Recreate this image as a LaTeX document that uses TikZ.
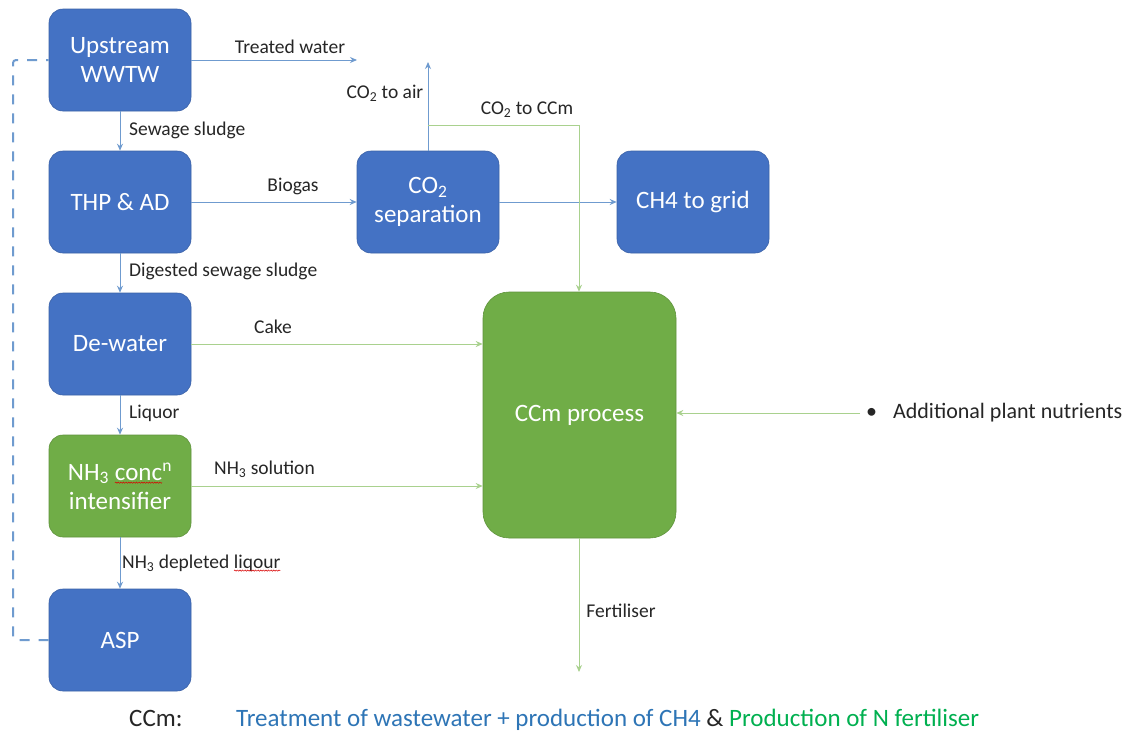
\documentclass[tikz,border=0pt]{standalone}
\usepackage{fontspec}
\setmainfont{Carlito}
\usetikzlibrary{arrows.meta,decorations.pathmorphing}
\definecolor{boxblue}{HTML}{4472C4}
\definecolor{boxgreen}{HTML}{70AD47}
\definecolor{lineblue}{HTML}{6F9BCF}
\definecolor{linegreen}{HTML}{A9D18E}
\definecolor{txtblue}{HTML}{2E75B6}
\definecolor{txtgreen}{HTML}{00B050}
\definecolor{txtdark}{HTML}{262626}
\newcommand\squig[1]{\tikz[baseline=(s.base)]{\node[inner sep=0pt,outer sep=0pt,minimum width=0pt,minimum height=0pt,draw=none,fill=none,sharp corners,align=left](s){#1};\draw[red!85!black,line width=0.5pt,sharp corners,decorate,decoration={snake,amplitude=0.6pt,segment length=2.6pt}]([yshift=-2.5pt]s.base west)--([yshift=-2.5pt]s.base east);}}
\tikzset{
  procbox/.style={rounded corners=14pt, draw=boxblue!85!black, line width=0.6pt, fill=boxblue, text=white,
    font=\fontsize{25}{29}\selectfont, align=center, inner sep=0pt, minimum width=142pt, minimum height=102pt},
  greenbox/.style={procbox, fill=boxgreen, draw=boxgreen!85!black},
  lab/.style={font=\fontsize{19.5}{23}\selectfont, text=txtdark, inner sep=0pt},
  bflow/.style={draw=lineblue, line width=1pt, -{Stealth[length=7pt,width=6pt]}},
  gflow/.style={draw=linegreen, line width=1pt, -{Stealth[length=7pt,width=6pt]}},
  loopline/.style={draw=lineblue, line width=2pt, dash pattern=on 10pt off 9pt, rounded corners=3pt}
}
\begin{document}
\begin{tikzpicture}[x=1pt,y=-1pt]
\useasboundingbox[fill=white] (0,0) rectangle (1136,737);
% boxes
\node[procbox] (wwtw) at (120,60) {Upstream\\WWTW};
\node[procbox] (thp) at (120,202) {THP \& AD};
\node[procbox] (dew) at (120,344) {De-water};
\node[greenbox] (nh3) at (120,486) {NH\textsubscript{3} \squig{conc}\textsuperscript{n}\\intensifier};
\node[procbox] (asp) at (120,640) {ASP};
\node[procbox] (co2) at (428,202) {CO\textsubscript{2}\\separation};
\node[procbox, minimum width=152pt] (ch4) at (693,202) {CH4 to grid};
\node[greenbox, minimum width=193pt, minimum height=246pt, rounded corners=26pt] (ccm) at (579.5,415) {CCm process};
% free ends
\coordinate (tw) at (357,60);
\coordinate (air) at (428,62);
\coordinate (split) at (428,125);
\coordinate (corner) at (579,125);
\coordinate (fert) at (579,672);
\coordinate (addl) at (860,413);
\coordinate (loopx) at (13,0);
% blue flows
\draw[bflow] (wwtw.east |- tw) -- (tw);
\draw[bflow] (wwtw) -- (thp);
\draw[bflow] (thp) -- (co2);
\draw[bflow] (co2) -- (ch4);
\draw[bflow] (thp) -- (dew);
\draw[bflow] (dew) -- (nh3);
\draw[bflow] (nh3) -- (asp);
\draw[bflow] (co2.north) -- (air);
% green flows
\draw[gflow] (split) -- (corner) -- (ccm.north -| corner);
\draw[gflow] (dew.east) -- (ccm.west |- dew.east);
\draw[gflow] (nh3.east) -- (ccm.west |- nh3.east);
\draw[gflow] (ccm.south -| fert) -- (fert);
\draw[gflow] (addl) -- (ccm.east |- addl);
% recycle loop
\draw[loopline] (asp.west) -- (loopx |- asp.west) -- (loopx |- wwtw.west) -- (wwtw.west);
% labels
\node[lab] (l1) at (290,47) {Treated water};
\node[lab, anchor=west] (l2) at (129,130) {Sewage sludge};
\node[lab] (l3) at (293,186) {Biogas};
\node[lab] (l4) at (385,93) {CO\textsubscript{2} to air};
\node[lab] (l5) at (527,110) {CO\textsubscript{2} to CCm};
\node[lab, anchor=west] (l6) at (129,271) {Digested sewage sludge};
\node[lab] (l7) at (273,327) {Cake};
\node[lab, anchor=west] (l8) at (129,413) {Liquor};
\node[lab, anchor=west] (l9) at (214,469) {NH\textsubscript{3} solution};
\node[lab, anchor=west] (l10) at (122,563) {NH\textsubscript{3} depleted \squig{liqour}};
\node[lab] (l11) at (621,611) {Fertiliser};
\node[lab, font=\fontsize{22}{26}\selectfont, anchor=west] (l12) at (866,413) {\textbullet\hspace{16pt}Additional plant nutrients};
% legend
\node[lab, font=\fontsize{25}{29}\selectfont, anchor=base west] (k1) at (129,726) {CCm:};
\node[lab, font=\fontsize{25}{29}\selectfont, anchor=base west] (k2) at (236,726) {\textcolor{txtblue}{Treatment of wastewater + production of CH4} \& \textcolor{txtgreen}{Production of N fertiliser}};
\end{tikzpicture}
\end{document}
